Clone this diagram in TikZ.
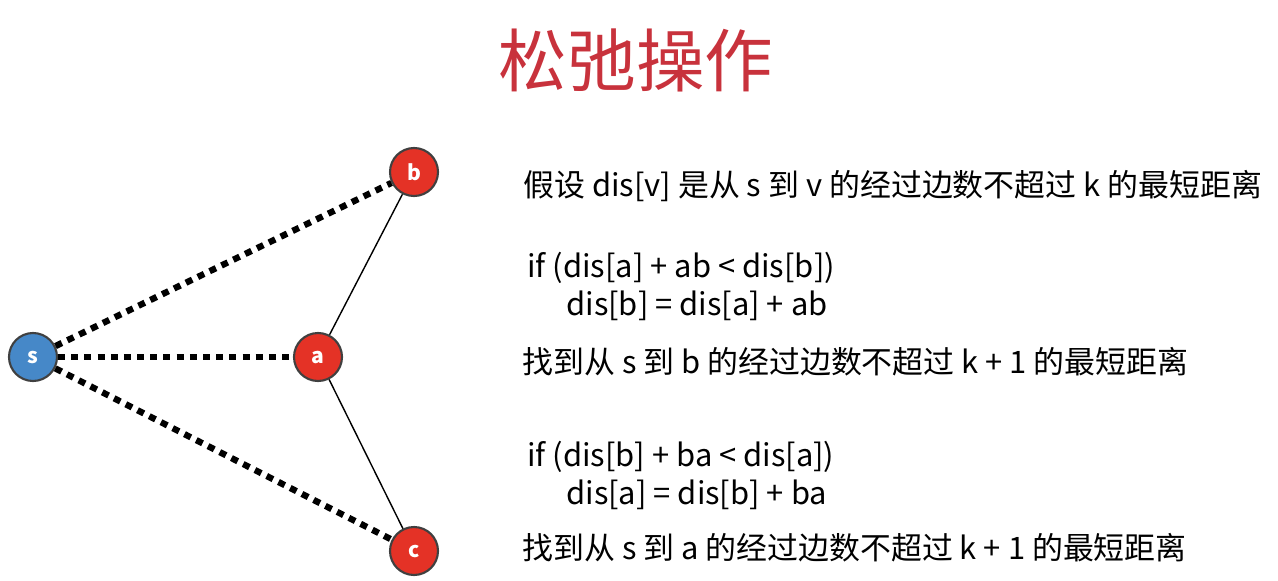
\documentclass[tikz,border=0pt]{standalone}
\usepackage{fontspec}
\setmainfont{Noto Sans CJK SC}
\usetikzlibrary{positioning}
\definecolor{vred}{RGB}{228,50,38}
\definecolor{vblue}{RGB}{70,136,200}
\definecolor{titlered}{RGB}{200,50,60}
\tikzset{vertex/.style={circle, draw=black!75, line width=1.2pt, minimum size=0.96cm, inner sep=0pt, text=white, font=\bfseries\large},
  hop/.style={line width=3.6pt, dash pattern=on 4pt off 3.5pt},
  edge/.style={line width=0.8pt},
  txt/.style={anchor=west, font=\fontsize{17.6}{20}\selectfont, inner sep=0pt}}
\begin{document}
\begin{tikzpicture}[x=0.02cm, y=-0.02cm]
    \useasboundingbox (0,0) rectangle (1278,581);
    \node [text=titlered, font=\fontsize{39}{44}\selectfont] (title) at (636,60) {松弛操作};
    \node [vertex, fill=vblue] (s) at (33,357) {s};
    \node [vertex, fill=vred] (a) at (318,357) {a};
    \node [vertex, fill=vred] (b) at (414,172) {b};
    \node [vertex, fill=vred] (c) at (414,551) {c};
    \draw [hop] (s) -- (b);
    \draw [hop] (s) -- (a);
    \draw [hop] (s) -- (c);
    \draw [edge] (a) -- (b);
    \draw [edge] (a) -- (c);
    \node [txt] (t1) at (523,186) {假设 dis[v] 是从 s 到 v 的经过边数不超过 k 的最短距离};
    \node [txt] (t2) at (527,268) {if (dis[a] + ab < dis[b])};
    \node [txt] (t3) at (566,306) {dis[b] = dis[a] + ab};
    \node [txt] (t4) at (522,362) {找到从 s 到 b 的经过边数不超过 k + 1 的最短距离};
    \node [txt] (t5) at (527,457) {if (dis[b] + ba < dis[a])};
    \node [txt] (t6) at (566,495) {dis[a] = dis[b] + ba};
    \node [txt] (t7) at (522,548) {找到从 s 到 a 的经过边数不超过 k + 1 的最短距离};
\end{tikzpicture}
\end{document}
